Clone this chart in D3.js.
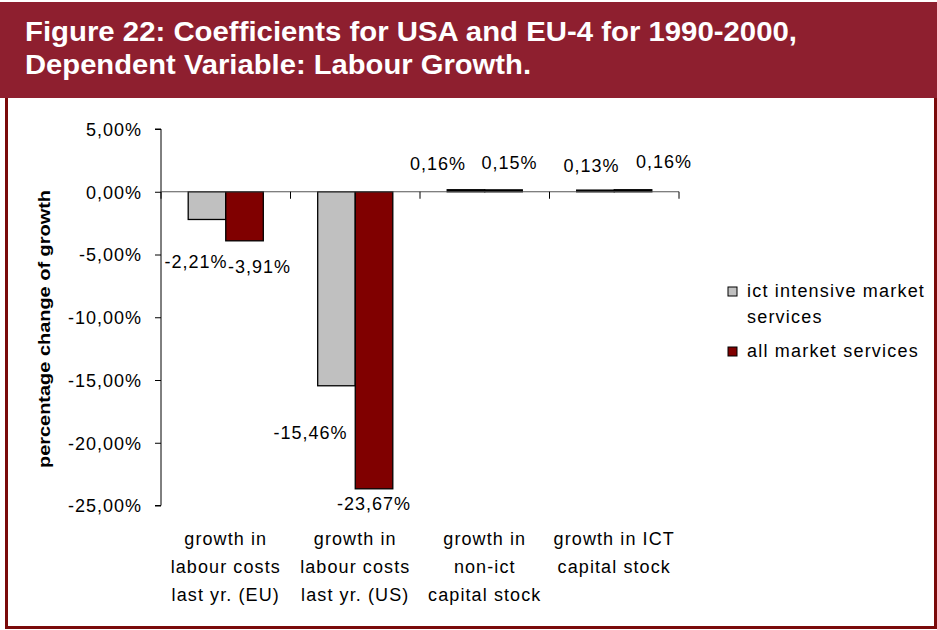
<!DOCTYPE html>
<html>
<head>
<meta charset="utf-8">
<script src="https://cdn.jsdelivr.net/npm/d3@7"></script>
<style>
  html, body { margin: 0; padding: 0; background: #fff; }
  svg { display: block; }
  text { font-family: "Liberation Sans", Arial, sans-serif; }
</style>
</head>
<body>
<svg id="chart" width="937" height="630"></svg>
<script>
// Regression coefficients, percentage change of labour growth
const categories = [
  ["growth in", "labour costs", "last yr. (EU)"],
  ["growth in", "labour costs", "last yr. (US)"],
  ["growth in", "non-ict", "capital stock"],
  ["growth in ICT", "capital stock"]
];
const seriesNames = [["ict intensive market", "services"], ["all market services"]];
const ictIntensive = [-2.21, -15.46, 0.16, 0.13];
const allMarket = [-3.91, -23.67, 0.15, 0.16];
const yTicks = [5, 0, -5, -10, -15, -20, -25];

// Label placement relative to each bar's end: [dx, dy]
const ictLabelNudge = [[-11, 49], [-26, 53], [-28, -20], [-4, -18]];
const allLabelNudge = [[15, 32], [0, 21], [6, -21], [31, -22]];

const colors = ["#C0C0C0", "#800000"];
const fmt = v => v.toFixed(2).replace(".", ",") + "%";

const svg = d3.select("#chart");

// Frame and title band
svg.append("rect").attr("x", 0).attr("y", 2).attr("width", 937).attr("height", 96).attr("fill", "#8E1F2F");
svg.append("path")
  .attr("d", "M6.5,98 V627.5 H935.5 V98")
  .attr("fill", "none").attr("stroke", "#7A0A0A").attr("stroke-width", 3);

const titleLines = ["Figure 22: Coefficients for USA and EU-4 for 1990-2000,", "Dependent Variable: Labour Growth."];
const titleWidths = [772, 506];
svg.selectAll("text.title").data(titleLines).join("text")
  .attr("class", "title")
  .attr("x", 25).attr("y", (d, i) => 41 + i * 33)
  .attr("fill", "#fff").attr("font-weight", "bold").attr("font-size", 28)
  .attr("textLength", (d, i) => titleWidths[i]).attr("lengthAdjust", "spacingAndGlyphs")
  .text(d => d);

// Scales
const x = d3.scaleBand().domain(d3.range(categories.length)).range([161, 679]).paddingInner(0).paddingOuter(0);
const y = d3.scaleLinear().domain([-25, 5]).range([505.5, 129]);
const bw = x.bandwidth() * 0.29;
const groupOffset = (x.bandwidth() - 2 * bw) / 2;

// Y axis
const yAxis = d3.axisLeft(y).tickValues(yTicks).tickSize(6).tickFormat(d => d.toFixed(2).replace(".", ",") + "%");
const gy = svg.append("g").attr("transform", "translate(161,0)").call(yAxis);
gy.select(".domain").attr("stroke", "#000").attr("d", `M-6,${y(5)}H0V${y(-25)}H-6`);
gy.selectAll(".tick line").attr("stroke", "#000");
gy.selectAll(".tick text")
  .attr("x", -19).attr("dy", "0.35em")
  .attr("font-size", 18).attr("letter-spacing", 1).attr("fill", "#000");

// Y axis title
svg.append("text")
  .attr("transform", `translate(50,${329}) rotate(-90)`)
  .attr("text-anchor", "middle").attr("font-weight", "bold").attr("font-size", 17)
  .attr("textLength", 278).attr("lengthAdjust", "spacingAndGlyphs")
  .text("percentage change of growth");

// Bars
const seriesData = [ictIntensive, allMarket];
const nudges = [ictLabelNudge, allLabelNudge];
seriesData.forEach((vals, s) => {
  svg.append("g").selectAll("rect").data(vals).join("rect")
    .attr("x", (d, i) => x(i) + groupOffset + s * bw)
    .attr("y", d => y(Math.max(0, d)))
    .attr("width", bw)
    .attr("height", d => Math.abs(y(d) - y(0)))
    .attr("fill", d => d > 0 ? "#000" : colors[s])
    .attr("stroke", "#000").attr("stroke-width", 1.3);
});

// X axis along zero, with category dividers
const xAxisG = svg.append("g");
xAxisG.append("line").attr("x1", 161).attr("x2", 679).attr("y1", y(0)).attr("y2", y(0)).attr("stroke", "#555").attr("stroke-width", 1);
xAxisG.selectAll("line.tk").data(d3.range(categories.length + 1)).join("line")
  .attr("class", "tk")
  .attr("x1", i => i < categories.length ? x(i) : x.range()[1])
  .attr("x2", i => i < categories.length ? x(i) : x.range()[1])
  .attr("y1", y(0)).attr("y2", y(0) + 7).attr("stroke", "#000");

// Value labels
seriesData.forEach((vals, s) => {
  svg.append("g").selectAll("text").data(vals).join("text")
    .attr("x", (d, i) => x(i) + groupOffset + s * bw + bw / 2 + nudges[s][i][0])
    .attr("y", (d, i) => y(d) + nudges[s][i][1])
    .attr("text-anchor", "middle").attr("font-size", 18).attr("letter-spacing", 1)
    .text(d => fmt(d));
});

// Category labels
const cat = svg.append("g").selectAll("text").data(categories).join("text")
  .attr("text-anchor", "middle").attr("font-size", 18).attr("letter-spacing", 1.1);
cat.selectAll("tspan").data((d, i) => d.map(t => ({ t, i }))).join("tspan")
  .attr("x", d => x(d.i) + x.bandwidth() / 2)
  .attr("y", (d, j) => 545 + j * 28)
  .text(d => d.t);

// Legend
const legend = svg.append("g");
const legendRows = [297, 357];
seriesNames.forEach((lines, s) => {
  legend.append("rect").attr("x", 728).attr("y", legendRows[s] - 10).attr("width", 9).attr("height", 9)
    .attr("fill", colors[s]).attr("stroke", "#000").attr("stroke-width", 1);
  lines.forEach((t, j) => {
    legend.append("text").attr("x", 747).attr("y", legendRows[s] + j * 26)
      .attr("font-size", 18).attr("letter-spacing", 1.2).text(t);
  });
});
</script>
</body>
</html>
